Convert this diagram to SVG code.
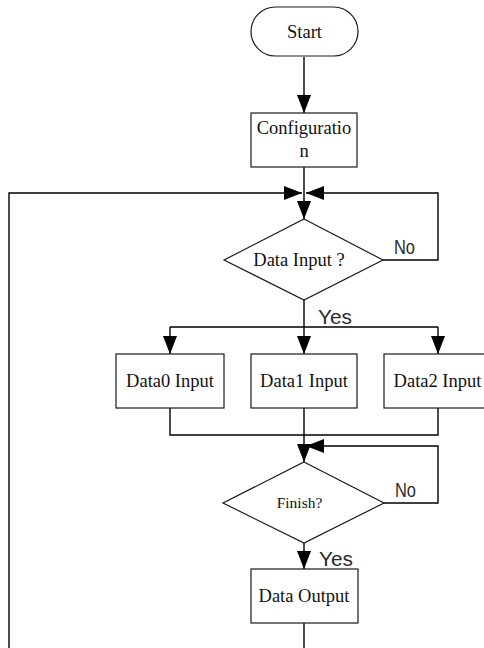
<svg xmlns="http://www.w3.org/2000/svg" width="484" height="648" viewBox="0 0 484 648">
  <style>
    .shape { fill: #ffffff; stroke: #1a1a1a; stroke-width: 1.2; }
    .line { fill: none; stroke: #000000; stroke-width: 1.4; }
    .label { font-family: "Liberation Serif", "Times New Roman", serif; font-size: 18.5px; fill: #111111; text-anchor: middle; }
    .small { font-size: 15.5px; }
    .cond { font-family: "Liberation Sans", Arial, sans-serif; font-size: 21px; fill: #2a2a2a; }
  </style>
  <defs>
    <marker id="arrow" viewBox="0 0 18 14" refX="18" refY="7" markerWidth="18" markerHeight="14" markerUnits="userSpaceOnUse" orient="auto">
      <path d="M0,0 L18,7 L0,14 z" fill="#000000"/>
    </marker>
  </defs>

  <rect width="484" height="648" fill="#ffffff"/>

  <!-- connectors -->
  <g id="connectors">
    <path class="line" d="M304,57 V113" marker-end="url(#arrow)"/>
    <path class="line" d="M304,167 V219" marker-end="url(#arrow)"/>
    <path class="line" d="M9,648 V193 H302" marker-end="url(#arrow)"/>
    <path class="line" d="M383,260 H438 V193 H306" marker-end="url(#arrow)"/>
    <path class="line" d="M304,300 V327 M170,327 H438"/>
    <path class="line" d="M170,327 V354" marker-end="url(#arrow)"/>
    <path class="line" d="M304,327 V354" marker-end="url(#arrow)"/>
    <path class="line" d="M438,327 V354" marker-end="url(#arrow)"/>
    <path class="line" d="M170,408 V435 H438 V408 M304,408 V435"/>
    <path class="line" d="M304,435 V462" marker-end="url(#arrow)"/>
    <path class="line" d="M384,503 H438 V446 H306" marker-end="url(#arrow)"/>
    <path class="line" d="M304,543 V569" marker-end="url(#arrow)"/>
    <path class="line" d="M304,623 V648"/>
    <text class="cond" x="318" y="324" textLength="34" lengthAdjust="spacingAndGlyphs">Yes</text>
    <text class="cond" x="394" y="254" textLength="21" lengthAdjust="spacingAndGlyphs">No</text>
    <text class="cond" x="395" y="497" textLength="21" lengthAdjust="spacingAndGlyphs">No</text>
    <text class="cond" x="319" y="566" textLength="34" lengthAdjust="spacingAndGlyphs">Yes</text>
  </g>

  <g id="start">
    <rect class="shape" x="251" y="7" width="107" height="49" rx="24.5" ry="24.5"/>
    <text class="label" x="304.5" y="38">Start</text>
  </g>

  <g id="configuration">
    <rect class="shape" x="251" y="113" width="106" height="54"/>
    <text class="label" x="304" y="134">Configuratio</text>
    <text class="label" x="304" y="157">n</text>
  </g>

  <g id="data-input-check">
    <polygon class="shape" points="304,219 383,260 304,300 224,260"/>
    <text class="label" x="299" y="266">Data Input ?</text>
  </g>

  <g id="data0-input">
    <rect class="shape" x="116" y="354" width="108" height="54"/>
    <text class="label" x="170" y="387">Data0 Input</text>
  </g>

  <g id="data1-input">
    <rect class="shape" x="251" y="354" width="106" height="54"/>
    <text class="label" x="304" y="387">Data1 Input</text>
  </g>

  <g id="data2-input">
    <rect class="shape" x="384" y="354" width="107" height="54"/>
    <text class="label" x="437.5" y="387">Data2 Input</text>
  </g>

  <g id="finish-check">
    <polygon class="shape" points="304,462 384,503 304,543 223,503"/>
    <text class="label small" x="299.5" y="508">Finish?</text>
  </g>

  <g id="data-output">
    <rect class="shape" x="251" y="569" width="107" height="54"/>
    <text class="label" x="304" y="602">Data Output</text>
  </g>
</svg>
